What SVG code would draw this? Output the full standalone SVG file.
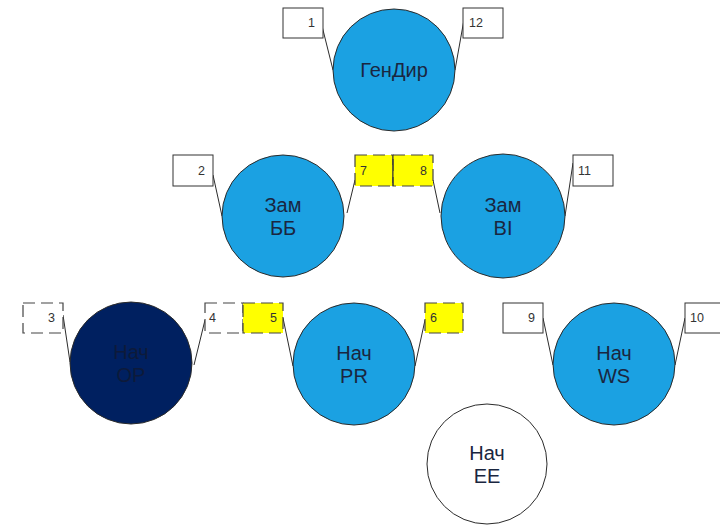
<svg xmlns="http://www.w3.org/2000/svg" width="720" height="525" viewBox="0 0 720 525">
  <style>
    .node { stroke: #2b2b2b; stroke-width: 1; }
    .blue { fill: #1BA1E2; }
    .navy { fill: #002060; }
    .white { fill: #ffffff; }
    .lbl { font-family: "Liberation Sans", Arial, sans-serif; font-size: 20px; fill: #1a2640; text-anchor: middle; }
    .dim { fill: #0d1a3a; }
    .box { fill: #ffffff; stroke: #333333; stroke-width: 1; }
    .dash { stroke-dasharray: 12 6; stroke: #444444; stroke-width: 1.2; }
    .yel { fill: #FFFF00; }
    .num { font-family: "Liberation Sans", Arial, sans-serif; font-size: 12.5px; fill: #333333; }
    .end { text-anchor: end; }
    .lead { stroke: #2b2b2b; stroke-width: 1; fill: none; }
  </style>
  <rect width="720" height="525" fill="#ffffff"/>

  <!-- callout leaders -->
  <g id="connectors">
    <line class="lead" x1="322" y1="26" x2="333" y2="70"/>
    <line class="lead" x1="465" y1="14" x2="455" y2="70"/>
    <line class="lead" x1="213" y1="175" x2="222" y2="216"/>
    <line class="lead" x1="355" y1="180" x2="347" y2="213"/>
    <line class="lead" x1="433" y1="180" x2="440" y2="213"/>
    <line class="lead" x1="573" y1="163" x2="565" y2="216"/>
    <line class="lead" x1="63" y1="315" x2="70" y2="362"/>
    <line class="lead" x1="205" y1="320" x2="194" y2="365"/>
    <line class="lead" x1="283" y1="318" x2="293" y2="366"/>
    <line class="lead" x1="425" y1="320" x2="415" y2="366"/>
    <line class="lead" x1="543" y1="318" x2="553" y2="365"/>
    <line class="lead" x1="685" y1="318" x2="675" y2="365"/>
  </g>

  <!-- annotation boxes -->
  <g id="c1"><rect class="box" x="283" y="8" width="40" height="30"/><text class="num end" x="315" y="27">1</text></g>
  <g id="c12"><rect class="box" x="463" y="8" width="40" height="30"/><text class="num" x="469" y="27">12</text></g>
  <g id="c2"><rect class="box" x="173" y="155" width="40" height="31"/><text class="num end" x="205" y="175">2</text></g>
  <g id="c7"><rect class="box yel dash" x="355" y="155" width="38" height="31"/><text class="num" x="360" y="175">7</text></g>
  <g id="c8"><rect class="box yel dash" x="393" y="155" width="40" height="31"/><line x1="393" y1="155" x2="393" y2="186" stroke="#333" stroke-width="1"/><text class="num end" x="427" y="175">8</text></g>
  <g id="c11"><rect class="box" x="573" y="155" width="40" height="31"/><text class="num" x="578" y="175">11</text></g>
  <g id="c3"><rect class="box dash" x="23" y="303" width="40" height="30"/><text class="num end" x="55" y="322">3</text></g>
  <g id="c4"><rect class="box dash" x="205" y="303" width="38" height="30"/><text class="num" x="209" y="322">4</text></g>
  <g id="c5"><rect class="box yel dash" x="243" y="303" width="40" height="30"/><text class="num end" x="277" y="322">5</text></g>
  <g id="c6"><rect class="box yel dash" x="425" y="303" width="38" height="30"/><text class="num" x="430" y="322">6</text></g>
  <g id="c9"><rect class="box" x="503" y="303" width="40" height="30"/><text class="num end" x="535" y="322">9</text></g>
  <g id="c10"><rect class="box" x="685" y="303" width="40" height="30"/><text class="num" x="690" y="322">10</text></g>

  <!-- positions -->
  <g id="gendir"><circle class="node blue" cx="394" cy="70" r="61"/><text class="lbl" x="394" y="77">ГенДир</text></g>
  <g id="zam-bb"><circle class="node blue" cx="283" cy="216" r="61"/><text class="lbl" x="283" y="212">Зам</text><text class="lbl" x="283" y="235">ББ</text></g>
  <g id="zam-bi"><circle class="node blue" cx="503" cy="216" r="62"/><text class="lbl" x="503" y="212">Зам</text><text class="lbl" x="503" y="235">BI</text></g>
  <g id="nach-op"><circle class="node navy" cx="131" cy="363" r="61"/><text class="lbl dim" x="131" y="359">Нач</text><text class="lbl dim" x="131" y="382">OP</text></g>
  <g id="nach-pr"><circle class="node blue" cx="354" cy="364" r="61"/><text class="lbl" x="354" y="360">Нач</text><text class="lbl" x="354" y="383">PR</text></g>
  <g id="nach-ws"><circle class="node blue" cx="614" cy="364" r="61"/><text class="lbl" x="614" y="360">Нач</text><text class="lbl" x="614" y="383">WS</text></g>
  <g id="nach-ee"><circle class="node white" cx="487" cy="464" r="60"/><text class="lbl" x="487" y="460">Нач</text><text class="lbl" x="487" y="483">EE</text></g>
</svg>
